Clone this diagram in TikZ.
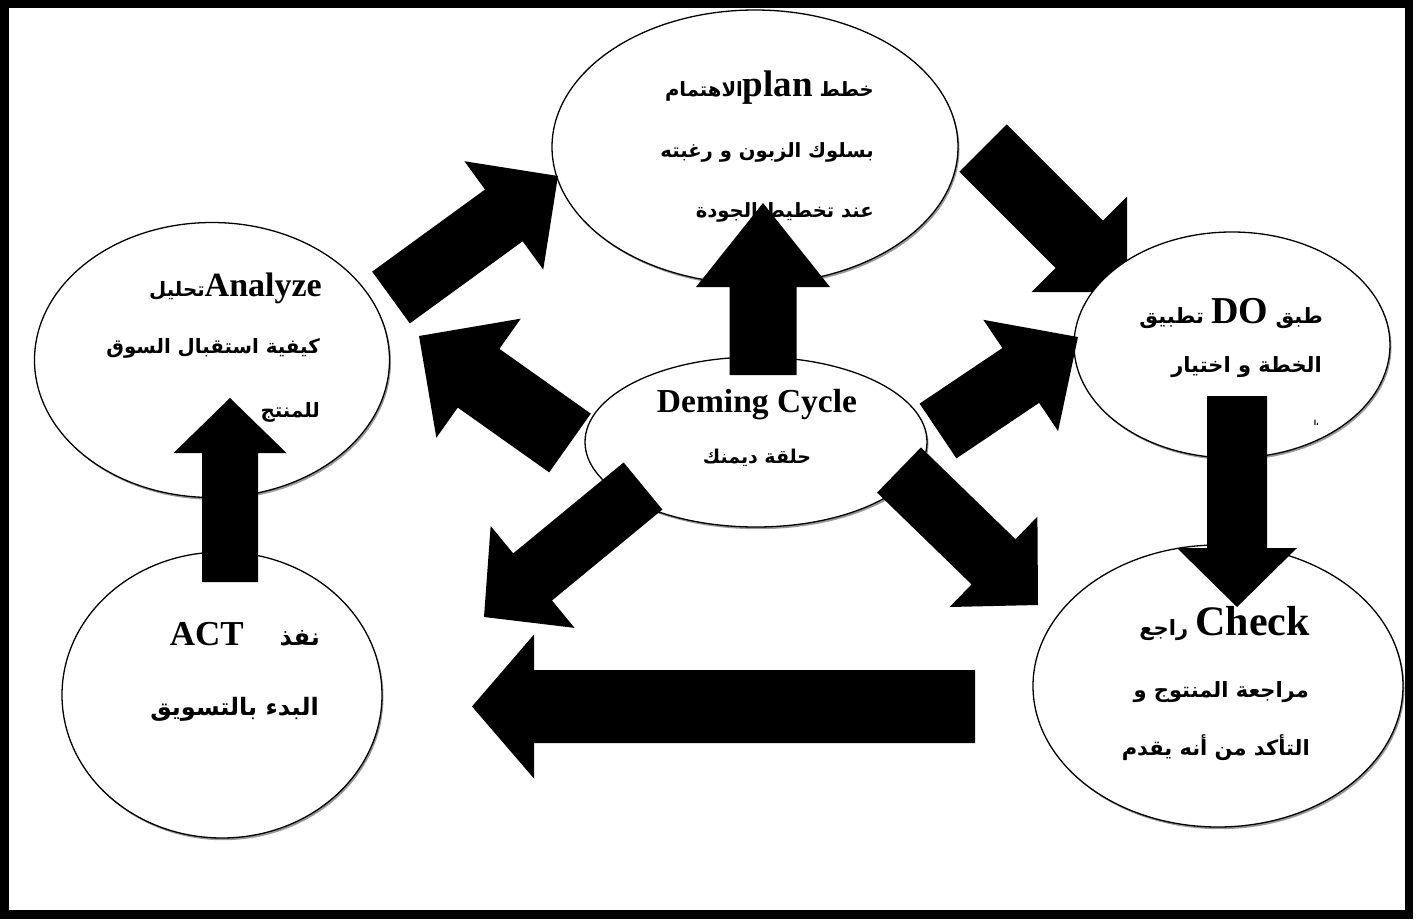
\documentclass[tikz,border=0pt]{standalone}
\usepackage{fontspec}
\setmainfont{Liberation Serif}
\newfontfamily\arabicfont[Script=Arabic]{DejaVu Sans}
\TeXXeTstate=1
\usetikzlibrary{shapes.geometric,calc,shadows}

% Latin word set left-to-right inside an Arabic line
\newcommand\lat[2][30]{\beginL{\rmfamily\bfseries\fontsize{#1}{#1}\selectfont #2}\endL}

% Block arrow: tail, tip, shaft half-width, head half-width, head length
\newcommand\blockarrow[5]{%
  \path ($(#2)!#5!(#1)$) coordinate (bh);
  \fill[arrowbody] ($(#1)!#3!90:(#2)$) -- ($(bh)!#3!90:(#2)$) -- ($(bh)!#4!90:(#2)$)
    -- (#2) -- ($(bh)!#4!-90:(#2)$) -- ($(bh)!#3!-90:(#2)$) -- ($(#1)!#3!-90:(#2)$) -- cycle;
}

\tikzset{
  stage/.style={ellipse, draw=black, line width=1.3pt, fill=white, inner sep=0pt,
    drop shadow={shadow xshift=1.5pt, shadow yshift=-2.2pt, fill=black!40, opacity=1}},
  artxt/.style={anchor=base east, inner sep=0pt,
    font=\arabicfont\bfseries\fontsize{#1}{#1}\selectfont},
  artxt/.default=19,
  mid/.style={anchor=base, inner sep=0pt},
  arrowbody/.style={fill=black},
}

\begin{document}
\begin{tikzpicture}[x=1pt, y=-1pt]
\useasboundingbox (0,0) rectangle (1416,920);
\fill[white] (0,0) rectangle (1416,920);

% outer frame
\draw[line width=8.5pt] (4.25,4.25) rectangle (1409,914.5);

% stages of the cycle
\node[stage, minimum width=406pt, minimum height=274pt] (plan) at (755,147) {};
\node[stage, minimum width=355pt, minimum height=275pt] (analyze) at (212,360) {};
\node[stage, minimum width=342pt, minimum height=170pt] (deming) at (756,442) {};
\node[stage, minimum width=320pt, minimum height=286pt] (act) at (222,695) {};
\node[stage, minimum width=370pt, minimum height=282pt] (check) at (1218,686) {};

% texts
\node[artxt=19.6] (plan1) at (874,97) {\beginR خطط \lat[37]{plan}الاهتمام\endR};
\node[artxt=19.6] (plan2) at (874,158) {\beginR بسلوك الزبون و رغبته\endR};
\node[artxt=19.6] (plan3) at (874,218) {\beginR عند تخطيط الجودة\endR};

\node[artxt=19.8] (an1) at (322,296) {\beginR\lat[34]{Analyze}تحليل\endR};
\node[artxt=19.8] (an2) at (320,353) {\beginR كيفية استقبال السوق\endR};
\node[artxt=19.8] (an3) at (320,417) {\beginR للمنتج\endR};

\node[mid, font=\rmfamily\bfseries\fontsize{33.5}{33.5}\selectfont] (dem1) at (757,412) {Deming Cycle};
\node[mid, font=\arabicfont\bfseries\fontsize{19}{19}\selectfont] (dem2) at (757,463) {\beginR حلقة ديمنك\endR};

\node[artxt=24] (act1) at (320,645) {\beginR نفذ\hspace{36pt}\lat[35]{ACT}\endR};
\node[artxt=24] (act2) at (319,715) {\beginR البدء بالتسويق\endR};

\node[artxt=21] (ch1) at (1310,635) {\beginR\lat[42]{Check} راجع\endR};
\node[artxt=21] (ch2) at (1309,697) {\beginR مراجعة المنتوج و\endR};
\node[artxt=21] (ch3) at (1310,755) {\beginR التأكد من أنه يقدم\endR};

% arrow end points
\coordinate (apT) at (391,297.5);  \coordinate (apH) at (558,176);
\coordinate (pdT) at (983,148);    \coordinate (pdH) at (1127,292);
\coordinate (caT) at (570,443);    \coordinate (caH) at (419,336);
\coordinate (cdT) at (938,431);    \coordinate (cdH) at (1078,337);
\coordinate (cpT) at (763,375);    \coordinate (cpH) at (763,203);
\coordinate (dcT) at (1237,396);   \coordinate (dcH) at (1237,607);
\coordinate (kaT) at (975,706.5);  \coordinate (kaH) at (472,706.5);
\coordinate (taT) at (230,582);    \coordinate (taH) at (230,398);
\coordinate (clT) at (643,486);    \coordinate (clH) at (484,617);
\coordinate (crT) at (899,470);    \coordinate (crH) at (1038,605);

% plan -> do runs under the DO stage
\blockarrow{pdT}{pdH}{33.5pt}{67.5pt}{67.5pt}

\node[stage, minimum width=316pt, minimum height=226pt] (do) at (1232,345) {};
\node[artxt=21] (do1) at (1323,323) {\beginR طبق \lat[38]{DO} تطبيق\endR};
\node[artxt=21] (do2) at (1322,372) {\beginR الخطة و اختيار\endR};
\node[artxt=7] (do3) at (1319,425) {\beginR ،ا\endR};

% remaining arrows
\blockarrow{apT}{apH}{32pt}{67pt}{67pt}
\blockarrow{caT}{caH}{36pt}{73pt}{73pt}
\blockarrow{cdT}{cdH}{33pt}{67pt}{69pt}
\blockarrow{cpT}{cpH}{33.5pt}{67pt}{84pt}
\blockarrow{dcT}{dcH}{30pt}{60pt}{59pt}
\blockarrow{kaT}{kaH}{36.5pt}{72pt}{62pt}
\blockarrow{taT}{taH}{28pt}{56.5pt}{55pt}
\blockarrow{clT}{clH}{30.5pt}{66pt}{63pt}
\blockarrow{crT}{crH}{31.5pt}{63pt}{62pt}
\end{tikzpicture}
\end{document}
